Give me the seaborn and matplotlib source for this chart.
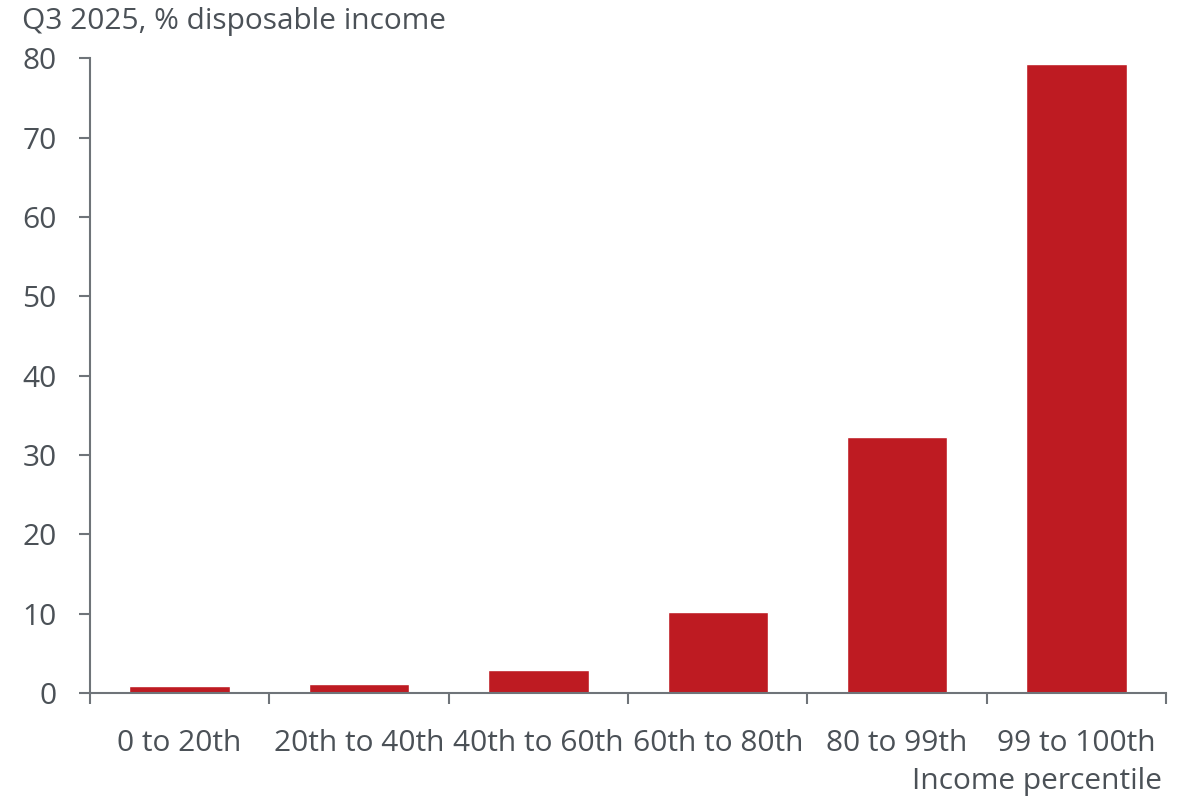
import matplotlib
matplotlib.use("Agg")
import matplotlib.pyplot as plt
import seaborn as sns
import pandas as pd

# Share of disposable income by income band, Q3 2025
percentiles = ["0 to 20th", "20th to 40th", "40th to 60th", "60th to 80th", "80 to 99th", "99 to 100th"]
share_of_income = [0.9, 1.1, 2.9, 10.2, 32.2, 79.3]
y_ticks = [0, 10, 20, 30, 40, 50, 60, 70, 80]

BAR_RED = "#BE1B22"
AXIS_GREY = "#6f7479"
TEXT_GREY = "#4b5157"
FONT_SIZE = 21.5

sns.set_style("ticks")
plt.rcParams["font.family"] = ["Open Sans", "DejaVu Sans"]

df = pd.DataFrame({"band": percentiles, "value": share_of_income})

fig = plt.figure(figsize=(11.84, 7.97), dpi=100)
ax = fig.add_axes([0.076, 0.1305, 0.909, 0.7965])

sns.barplot(data=df, x="band", y="value", color=BAR_RED, width=0.56,
            saturation=1, ax=ax, order=percentiles)

ax.set_xlim(-0.5, len(percentiles) - 0.5)
ax.set_ylim(0, 80)
ax.set_yticks(y_ticks)
ax.set_yticklabels([str(t) for t in y_ticks])

# category labels centred on bars, ticks on the boundaries between bands
ax.set_xticks(range(len(percentiles)))
ax.set_xticklabels(percentiles)
ax.tick_params(axis="x", length=0, pad=26, labelsize=FONT_SIZE, labelcolor=TEXT_GREY)
ax.set_xticks([i - 0.5 for i in range(len(percentiles) + 1)], minor=True)
ax.tick_params(axis="x", which="minor", length=8, width=1.5, color=AXIS_GREY, direction="out")
ax.tick_params(axis="y", length=8, width=1.5, color=AXIS_GREY, pad=16,
               labelsize=FONT_SIZE, labelcolor=TEXT_GREY)

for side in ("top", "right"):
    ax.spines[side].set_visible(False)
for side in ("left", "bottom"):
    ax.spines[side].set_color(AXIS_GREY)
    ax.spines[side].set_linewidth(1.5)

ax.set_xlabel("")
ax.set_ylabel("")

fig.text(22 / 1184, 1 - 22 / 797, "Q3 2025, % disposable income", ha="left", va="center",
         fontsize=FONT_SIZE, color=TEXT_GREY)
fig.text(1162 / 1184, 1 - 781 / 797, "Income percentile", ha="right", va="center",
         fontsize=FONT_SIZE, color=TEXT_GREY)

fig.savefig("out.png", dpi=100)
